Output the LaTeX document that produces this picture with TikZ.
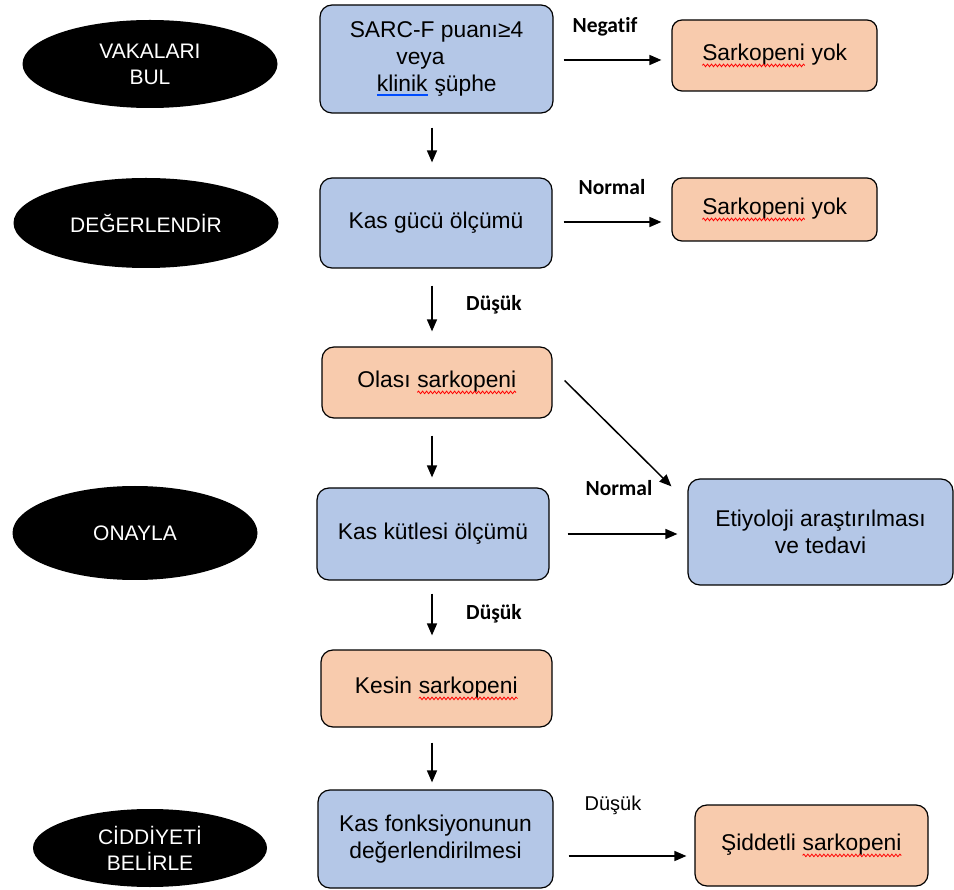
\documentclass[tikz,border=0pt]{standalone}
\usepackage{fontspec}
\setmainfont{Liberation Sans}
\newfontfamily\lblfont[Ligatures=NoCommon]{Carlito}
\usetikzlibrary{shapes.geometric,arrows.meta,calc,decorations.pathmorphing}
\definecolor{boxblue}{HTML}{B4C7E7}
\definecolor{boxorange}{HTML}{F8CBAD}
\tikzset{wordnode/.style={shape=rectangle, inner sep=0pt, outer sep=0pt, minimum width=0pt,
  minimum height=0pt, draw=none, fill=none, rounded corners=0pt}}
\newcommand\redwave[1]{\tikz[x=1pt,y=1pt,baseline=(w.base)]{\node[wordnode] (w) {#1};
  \draw[red, line width=0.8pt, rounded corners=0pt, decorate, decoration={snake, amplitude=1.3pt, segment length=4pt}]
   ([yshift=-5pt]w.base west) -- ([yshift=-5pt]w.base east);}}
\newcommand\blueline[1]{\tikz[x=1pt,y=1pt,baseline=(w.base)]{\node[wordnode] (w) {#1};
  \draw[blue!70!cyan, line width=1.2pt, rounded corners=0pt] ([yshift=-3.5pt]w.base west) -- ([yshift=-3.5pt]w.base east);}}
\begin{document}
\begin{tikzpicture}[x=1pt,y=-1pt,
  box/.style={draw=black, line width=1.2pt, rounded corners=12pt, inner sep=0pt,
    align=center, text=black, font=\fontsize{22.8}{27}\selectfont},
  bluebox/.style={box, fill=boxblue},
  orbox/.style={box, fill=boxorange},
  phase/.style={ellipse, fill=black, draw=none, inner sep=0pt, text=white,
    align=center, font=\fontsize{21}{26}\selectfont},
  arr/.style={line width=1.5pt, -{Triangle[length=12pt,width=10pt]}},
  lbl/.style={inner sep=0pt, font=\lblfont\bfseries\fontsize{21.5}{24}\selectfont},
  plainlbl/.style={inner sep=0pt, font=\fontsize{20}{24}\selectfont}
]
\useasboundingbox (0,0) rectangle (954,890);
\coordinate (ax) at (432,0);

% phase ellipses
\node[phase, minimum width=255pt, minimum height=88pt] (E1) at (150,64) {VAKALARI\\BUL};
\node[phase, minimum width=265pt, minimum height=90pt] (E2) at (146,223) {DEĞERLENDİR};
\node[phase, minimum width=245pt, minimum height=94pt] (E3) at (135,533) {ONAYLA};
\node[phase, minimum width=234pt, minimum height=78pt] (E4) at (150,848) {CİDDİYETİ\\BELİRLE};

% boxes
\node[bluebox, minimum width=233pt, minimum height=108pt] (B1) at (436.5,59)
  {SARC-F puanı≥4\\\hspace*{-32pt}veya\\\blueline{klinik} şüphe};
\node[orbox, minimum width=205pt, minimum height=71pt, rounded corners=10pt] (B2) at (774.5,55.5)
  {\redwave{Sarkopeni} yok};
\node[bluebox, minimum width=232pt, minimum height=90pt] (B3) at (436,223) {Kas gücü ölçümü};
\node[orbox, minimum width=205pt, minimum height=63pt, rounded corners=10pt] (B4) at (774.5,209.5)
  {\redwave{Sarkopeni} yok};
\node[orbox, minimum width=230pt, minimum height=71pt] (B5) at (437,382.5) {Olası \redwave{sarkopeni}};
\node[bluebox, minimum width=232pt, minimum height=92pt] (B6) at (433,534) {Kas kütlesi ölçümü};
\node[bluebox, minimum width=265pt, minimum height=106pt] (B7) at (820.5,532)
  {Etiyoloji araştırılması\\ve tedavi};
\node[orbox, minimum width=231pt, minimum height=77pt] (B8) at (436.5,688.5) {Kesin \redwave{sarkopeni}};
\node[bluebox, minimum width=235pt, minimum height=98pt] (B9) at (435.5,839)
  {Kas fonksiyonunun\\değerlendirilmesi};
\node[orbox, minimum width=233pt, minimum height=81pt] (B10) at (811.5,845.5)
  {Şiddetli \redwave{sarkopeni}};

% vertical arrows
\draw[arr] ($(B1.south -| ax)+(0,14)$) -- ($(B3.north -| ax)+(0,-15)$);
\draw[arr] ($(B3.south -| ax)+(0,17)$) -- ($(B5.north -| ax)+(0,-15)$);
\draw[arr] ($(B5.south -| ax)+(0,17)$) -- ($(B6.north -| ax)+(0,-10)$);
\draw[arr] ($(B6.south -| ax)+(0,13)$) -- ($(B8.north -| ax)+(0,-14)$);
\draw[arr] ($(B8.south -| ax)+(0,15)$) -- ($(B9.north -| ax)+(0,-7)$);

% horizontal arrows
\draw[arr] ($(B1.east)+(10,1)$) -- ($(B2.west |- B1.east)+(-10,1)$);
\draw[arr] ($(B3.east)+(11,-1)$) -- ($(B4.west |- B3.east)+(-10,-1)$);
\draw[arr] ($(B6.east)+(18,0)$) -- ($(B7.west |- B6.east)+(-10,0)$);
\draw[arr] ($(B9.east)+(15,17)$) -- ($(B10.west |- B9.east)+(-8,17)$);
\draw[arr] ($(B5.east)+(12,-2)$) -- ($(B7.north west)+(-16,8)$);

% labels
\node[lbl] (L1) at (605,27) {Negatif};
\node[lbl] (L2) at (612,187) {Normal};
\node[lbl] (L3) at (494,305) {Düşük};
\node[lbl] (L4) at (619,488) {Normal};
\node[lbl] (L5) at (494,614) {Düşük};
\node[plainlbl] (L6) at (613,805) {Düşük};
\end{tikzpicture}
\end{document}
